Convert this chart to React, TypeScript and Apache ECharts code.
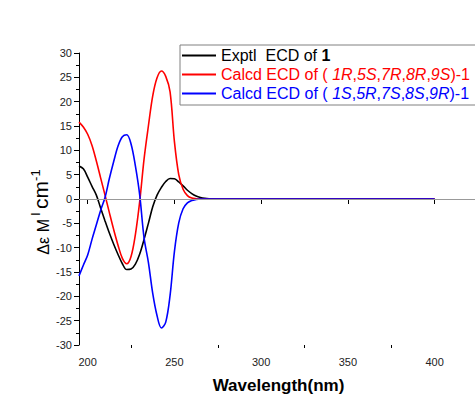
import React, { useEffect, useRef } from "react";
import * as echarts from "echarts";

const wavelengths = [
  195, 197.5, 200, 202.5, 205, 207.5, 210, 212.5, 215, 217.5, 220, 222.5, 225, 227.5, 230,
  232.5, 235, 237.5, 240, 242.5, 245, 247.5, 250, 252.5, 255, 257.5, 260, 262.5, 265, 267.5,
  270, 280, 300, 325, 350, 375, 400,
];
const exptl = [
  6.8, 6.2, 4.5, 2.6, 0.8, -1.9, -4.5, -7.0, -9.3, -11.4, -13.3, -14.5, -14.4, -13.4, -11.3,
  -8.3, -5.0, -1.6, 0.8, 2.4, 3.6, 4.2, 4.15, 3.5, 2.7, 1.8, 1.1, 0.6, 0.3, 0.12,
  0.05, 0, 0, 0, 0, 0, 0,
];
const calcdA = [
  15.8, 14.8, 13.3, 11.0, 7.8, 4.3, 0.8, -2.8, -6.3, -9.5, -12.2, -13.3, -11.8, -7.3, -0.5,
  8.2, 15.0, 21.2, 24.9, 26.3, 25.2, 22.0, 11.8, 5.0, 2.0, 0.7, 0.2, 0.05, 0, 0,
  0, 0, 0, 0, 0, 0, 0,
];
const calcdB = [
  -15.8, -13.6, -11.5, -8.3, -5.3, -2.3, 0.3, 4.2, 7.7, 10.9, 12.8, 13.2, 11.3, 6.8, 0.8,
  -8.0, -13.0, -19.4, -24.0, -26.5, -25.3, -19.8, -10.8, -4.9, -2.0, -0.8, -0.3, -0.1, 0, 0,
  0, 0, 0, 0, 0, 0, 0,
];
const xTickValues = [200, 250, 300, 350, 400];
const xMinorValues = [225, 275, 325, 375];
const seriesNames = ["exp", "calcA", "calcB"];

const FONT = "Liberation Sans, Arial, sans-serif";

export default function App() {
  const ref = useRef<HTMLDivElement>(null);
  useEffect(() => {
    if (!ref.current) return;
    const chart = echarts.init(ref.current, undefined, { renderer: "svg" });
    const pair = (vals: number[]) => wavelengths.map((w, i) => [w, vals[i]]);
    const lineSeries = (name: string, vals: number[], color: string) => ({
      name,
      type: "line",
      data: pair(vals),
      symbol: "none",
      smooth: 0.35,
      lineStyle: { color, width: 1.6 },
      itemStyle: { color },
    });
    const sz = 16;
    const lh = 17;
    chart.setOption({
      animation: false,
      backgroundColor: "#ffffff",
      textStyle: { fontFamily: FONT },
      grid: { left: 79, right: 42, top: 53, bottom: 49, containLabel: false, outerBoundsMode: "none" },
      legend: {
        orient: "vertical",
        left: 180,
        top: 45,
        data: seriesNames.map((n) => ({ name: n, icon: "rect" })),
        itemWidth: 34,
        itemHeight: 2,
        itemGap: 2,
        padding: [2, 8, 3, 2],
        borderColor: "#808080",
        borderWidth: 1,
        backgroundColor: "#ffffff",
        textStyle: {
          fontFamily: FONT,
          fontSize: sz,
          lineHeight: lh,
          rich: {
            k: { color: "#000", fontSize: sz, lineHeight: lh },
            kb: { color: "#000", fontSize: sz, fontWeight: "bold", lineHeight: lh },
            r: { color: "#ff0000", fontSize: sz, lineHeight: lh },
            ri: { color: "#ff0000", fontSize: sz, fontStyle: "italic", lineHeight: lh },
            b: { color: "#0000ff", fontSize: sz, lineHeight: lh },
            bi: { color: "#0000ff", fontSize: sz, fontStyle: "italic", lineHeight: lh },
          },
        },
        formatter: (name: string) => {
          if (name === "exp") return "{k|Exptl  ECD of }{kb|1}";
          const c = name === "calcA" ? "r" : "b";
          const ci = c + "i";
          const labels = name === "calcA" ? ["1R", "5S", "7R", "8R", "9S"] : ["1S", "5R", "7S", "8S", "9R"];
          let s = `{${c}|Calcd ECD of ( }`;
          labels.forEach((l, i) => {
            s += `{${ci}|${l}}`;
            if (i < labels.length - 1) s += `{${c}|,}`;
          });
          s += `{${c}|)-1}`;
          return s;
        },
      },
      xAxis: [
        {
          type: "value",
          min: 195,
          max: 425,
          name: "Wavelength(nm)",
          nameLocation: "middle",
          nameGap: 32,
          nameTextStyle: { fontFamily: FONT, fontSize: 17, fontWeight: "bold", color: "#000" },
          axisLine: { show: true, lineStyle: { color: "#000", width: 1 } },
          axisTick: { show: true, length: 5, customValues: xTickValues, lineStyle: { color: "#000" } },
          axisLabel: { show: true, customValues: xTickValues, margin: 11, fontSize: 11, color: "#222", fontFamily: FONT },
          splitLine: { show: false },
        },
        {
          type: "value",
          min: 195,
          max: 425,
          position: "bottom",
          offset: 0,
          axisLine: { show: false },
          axisTick: { show: true, length: 3, customValues: xMinorValues, lineStyle: { color: "#000" } },
          axisLabel: { show: false },
          splitLine: { show: false },
        },
      ],
      yAxis: {
        type: "value",
        min: -30,
        max: 30,
        interval: 5,
        axisLine: { show: true, lineStyle: { color: "#000", width: 1 } },
        axisTick: { show: true, length: 5, lineStyle: { color: "#000" } },
        minorTick: { show: true, splitNumber: 2, length: 3, lineStyle: { color: "#000" } },
        axisLabel: { margin: 7, fontSize: 11, color: "#222", fontFamily: FONT },
        splitLine: { show: false },
      },
      graphic: [
        {
          type: "text",
          x: 40,
          y: 212,
          rotation: Math.PI / 2,
          style: {
            text: "{a|Δε M}{s| l }{c|cm}{s|-1}",
            align: "center",
            verticalAlign: "middle",
            fill: "#000",
            rich: {
              a: { fontSize: 16, fontFamily: FONT, fill: "#000", lineHeight: 22, verticalAlign: "bottom" },
              c: { fontSize: 21, fontFamily: FONT, fill: "#000", lineHeight: 22, verticalAlign: "bottom" },
              s: { fontSize: 13, fontFamily: FONT, fill: "#000", lineHeight: 13, verticalAlign: "top" },
            },
          },
        },
      ],
      series: [
        {
          type: "line",
          data: [],
          silent: true,
          markLine: {
            silent: true,
            symbol: "none",
            label: { show: false },
            lineStyle: { color: "#999", width: 1.2, type: "solid" },
            data: [{ yAxis: 0 }],
          },
        },
        lineSeries("exp", exptl, "#000000"),
        lineSeries("calcA", calcdA, "#ff0000"),
        lineSeries("calcB", calcdB, "#0000ff"),
      ],
    });
    return () => chart.dispose();
  }, []);
  return (
    <div
      style={{
        position: "fixed",
        left: 0,
        top: 0,
        width: 475,
        height: 394,
        overflow: "hidden",
        background: "#fff",
      }}
    >
      <div ref={ref} style={{ width: 520, height: 394 }} />
    </div>
  );
}
